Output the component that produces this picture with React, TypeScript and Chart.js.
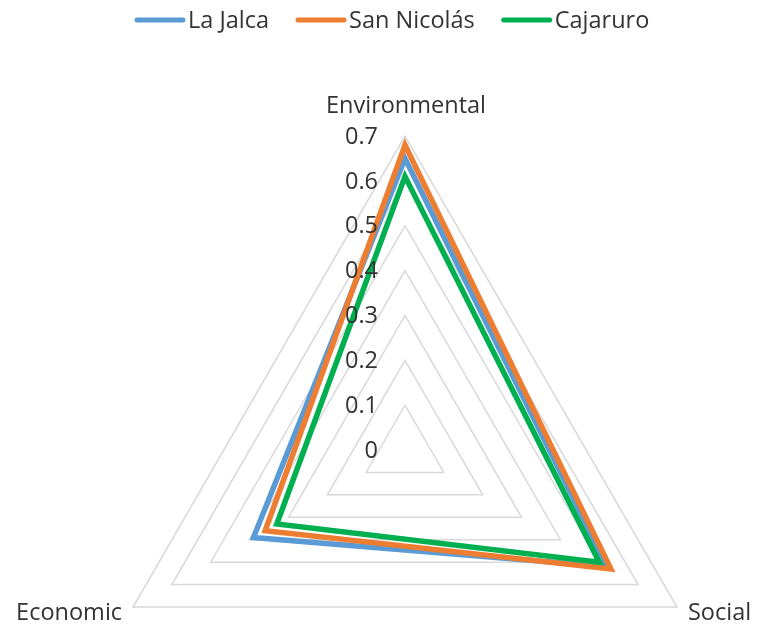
import React, { useEffect, useRef } from 'react';
import { Chart, registerables } from 'chart.js';

Chart.register(...registerables);

// Sustainability dimensions (clockwise from the top)
const dimensions = ['Environmental', 'Social', 'Economic'];

// Index values per district
const laJalca = [0.65, 0.52, 0.39];
const sanNicolas = [0.68, 0.53, 0.36];
const cajaruro = [0.61, 0.5, 0.33];

const seriesNames = ['La Jalca', 'San Nicolás', 'Cajaruro'];
const seriesValues = [laJalca, sanNicolas, cajaruro];
const seriesColors = ['#5B9BD5', '#ED7D31', '#00B050'];

// Radial axis
const tickValues = [0, 0.1, 0.2, 0.3, 0.4, 0.5, 0.6, 0.7];
const tickLabels = ['0', '0.1', '0.2', '0.3', '0.4', '0.5', '0.6', '0.7'];

const FONT_FAMILY = '"Open Sans", sans-serif';
const FONT_SIZE = 23.5;
const TEXT_COLOR = '#333333';

// Geometry of the radar web inside the canvas
const CENTER_X = 405;
const CENTER_Y = 450;
const RADIUS = 314;

const radarText = {
  id: 'radarText',
  afterDraw(chart: any) {
    const r = chart.scales.r;
    const ctx: CanvasRenderingContext2D = chart.ctx;
    ctx.save();
    ctx.fillStyle = TEXT_COLOR;
    ctx.font = `${FONT_SIZE}px ${FONT_FAMILY}`;

    // value labels, right-aligned just left of the vertical spoke
    ctx.textAlign = 'right';
    ctx.textBaseline = 'middle';
    tickValues.forEach((v, i) => {
      const p = r.getPointPosition(0, r.getDistanceFromCenterForValue(v));
      ctx.fillText(tickLabels[i], r.xCenter - 27, p.y + 1);
    });

    // dimension names around the outer ring
    ctx.textBaseline = 'alphabetic';
    dimensions.forEach((name, i) => {
      const p = r.getPointPosition(i, r.drawingArea);
      if (Math.abs(p.x - r.xCenter) < 1) {
        ctx.textAlign = 'center';
        ctx.fillText(name, p.x + 1, p.y - 23);
      } else if (p.x > r.xCenter) {
        ctx.textAlign = 'left';
        ctx.fillText(name, p.x + 11, p.y + 13);
      } else {
        ctx.textAlign = 'right';
        ctx.fillText(name, p.x - 11, p.y + 13);
      }
    });

    // legend row
    ctx.textAlign = 'left';
    ctx.textBaseline = 'middle';
    ctx.lineCap = 'round';
    ctx.lineWidth = 5;
    const y = 20;
    let x = 137;
    chart.data.datasets.forEach((ds: any) => {
      ctx.strokeStyle = ds.borderColor;
      ctx.beginPath();
      ctx.moveTo(x, y);
      ctx.lineTo(x + 46, y);
      ctx.stroke();
      const tx = x + 51;
      ctx.fillText(ds.label, tx, y + 1);
      x = tx + ctx.measureText(ds.label).width + 29;
    });
    ctx.restore();
  },
};

export default function App() {
  const canvasRef = useRef<HTMLCanvasElement | null>(null);

  useEffect(() => {
    if (!canvasRef.current) return;
    const datasets = seriesNames.map((name, i) => ({
      label: name,
      data: seriesValues[i],
      borderColor: seriesColors[i],
      backgroundColor: seriesColors[i],
      borderWidth: 5.5,
      borderJoinStyle: 'miter' as const,
      fill: false,
      pointRadius: 0,
      pointHoverRadius: 0,
      order: seriesNames.length - i,
    }));

    const chart = new Chart(canvasRef.current, {
      type: 'radar',
      data: { labels: dimensions, datasets },
      options: {
        animation: false,
        responsive: true,
        maintainAspectRatio: false,
        layout: { padding: 0 },
        plugins: {
          legend: { display: false },
          tooltip: { enabled: false },
        },
        scales: {
          r: {
            min: 0,
            max: 0.7,
            ticks: { display: false, stepSize: 0.1 },
            grid: { circular: false, color: '#D9D9D9', lineWidth: 1.5 },
            angleLines: { display: false },
            pointLabels: { display: false },
            afterFit: (scale: any) => {
              scale.xCenter = CENTER_X;
              scale.yCenter = CENTER_Y;
              scale.drawingArea = RADIUS;
            },
          },
        },
      },
      plugins: [radarText],
    });

    return () => chart.destroy();
  }, []);

  return (
    <div style={{ position: 'fixed', left: 0, top: 0, width: 758, height: 625, background: '#fff' }}>
      <canvas ref={canvasRef} />
    </div>
  );
}
